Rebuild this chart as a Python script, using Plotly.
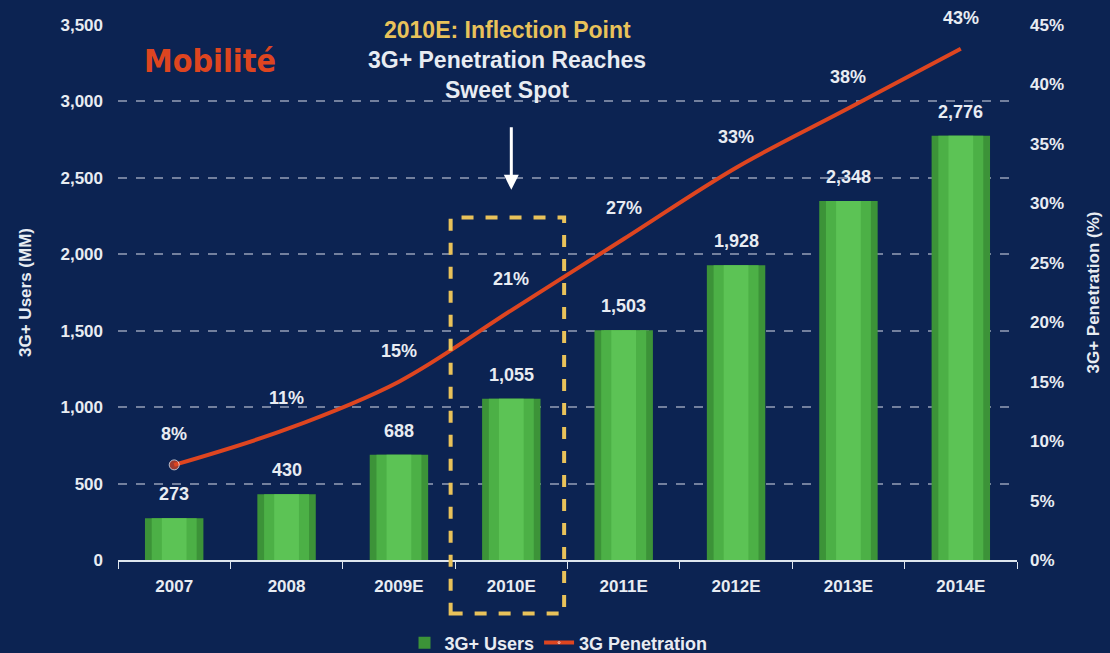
import plotly.graph_objects as go

years = ["2007", "2008", "2009E", "2010E", "2011E", "2012E", "2013E", "2014E"]
users_mm = [273, 430, 688, 1055, 1503, 1928, 2348, 2776]
penetration_pct = [8, 11, 15, 21, 27, 33, 38, 43]

user_labels = [f"{v:,}" for v in users_mm]
pen_labels = [f"{v}%" for v in penetration_pct]

BG = "#0c2352"
WHITE = "#e8ecf2"
RED = "#de4520"
GOLD = "#e9c25a"
FONT = "Liberation Sans, Arial, sans-serif"

fig = go.Figure()

# bars, layered to fake the cylinder shading
fig.add_trace(go.Bar(x=years, y=users_mm, width=0.52, name="3G+ Users",
                     marker=dict(color="#3c9338", line=dict(width=0))))
fig.add_trace(go.Bar(x=years, y=users_mm, width=0.4, showlegend=False, hoverinfo="skip",
                     marker=dict(color="#4cb046", line=dict(width=0))))
fig.add_trace(go.Bar(x=years, y=users_mm, width=0.22, showlegend=False, hoverinfo="skip",
                     marker=dict(color="#5cc355", line=dict(width=0))))

fig.add_trace(go.Scatter(x=years, y=penetration_pct, yaxis="y2", name="3G Penetration",
                         mode="lines+markers", line=dict(color=RED, width=4, shape="spline"),
                         marker=dict(size=[10, 0, 0, 0, 0, 0, 0, 0], color=RED)))

# value labels (category index positions)
for i, (v, lab) in enumerate(zip(users_mm, user_labels)):
    fig.add_annotation(x=i, y=v, text=lab, showarrow=False, yanchor="bottom", yshift=12,
                       font=dict(size=18, color=WHITE, family=FONT, weight="bold"))
for i, (v, lab) in enumerate(zip(penetration_pct, pen_labels)):
    fig.add_annotation(x=i, y=v, yref="y2", text=lab, showarrow=False, yanchor="bottom", yshift=19,
                       font=dict(size=18, color=WHITE, family=FONT, weight="bold"))

# inflection box + callout
fig.add_shape(type="rect", xref="x", yref="paper", x0=2.46, x1=3.47, y0=-0.1, y1=0.64,
              line=dict(color=GOLD, width=4, dash="dash"), layer="above")
fig.add_annotation(x=years.index("2010E"), xref="x", yref="paper", y=0.692, ax=0, ay=-64, text="",
                   showarrow=True, arrowhead=2, arrowsize=1, arrowwidth=3, arrowcolor="white")
callout = [("2010E: Inflection Point", GOLD, 0.991),
           ("3G+ Penetration Reaches", WHITE, 0.935),
           ("Sweet Spot", WHITE, 0.879)]
for txt, col, yy in callout:
    fig.add_annotation(x=0.433, xref="paper", yref="paper", y=yy, xanchor="center", yanchor="middle",
                       showarrow=False, text=txt,
                       font=dict(size=23, color=col, family=FONT, weight="bold"))
fig.add_annotation(x=0.102, xref="paper", yref="paper", y=0.933, xanchor="center", yanchor="middle",
                   showarrow=False, text="Mobilité",
                   font=dict(size=32, color=RED, family="DejaVu Sans Condensed, Liberation Sans Narrow", weight="bold"))

fig.update_layout(
    width=1110, height=653,
    paper_bgcolor=BG, plot_bgcolor=BG,
    margin=dict(l=118, r=93, t=25, b=93, autoexpand=False),
    barmode="overlay",
    font=dict(family=FONT, color=WHITE, size=16, weight="bold"),
    showlegend=True,
    legend=dict(orientation="h", x=0.49, xanchor="center", y=-0.155, yanchor="middle",
                font=dict(size=18, color=WHITE, family=FONT, weight="bold"), bgcolor="rgba(0,0,0,0)"),
    xaxis=dict(type="category", range=[-0.5, 7.5], showgrid=False, showline=True, linecolor="#dfe6ee",
               linewidth=2, ticks="outside", tickson="boundaries", ticklen=7, tickcolor="#dfe6ee",
               tickfont=dict(size=17, color=WHITE, weight="bold"), ticklabelstandoff=10, zeroline=False),
    yaxis=dict(range=[0, 3500], dtick=500, tickformat=",", showgrid=True,
               gridcolor="rgba(200,205,220,0.55)", griddash="dash", gridwidth=1.5, zeroline=False,
               tickfont=dict(size=17, color=WHITE, weight="bold"), ticklabelstandoff=14,
               title=dict(text="3G+ Users (MM)", font=dict(size=17, color=WHITE, weight="bold"), standoff=24)),
    yaxis2=dict(range=[0, 45], dtick=5, ticksuffix="%", overlaying="y", side="right", showgrid=False,
                zeroline=False, tickfont=dict(size=17, color=WHITE, weight="bold"), ticklabelstandoff=12,
                title=dict(text="3G+ Penetration (%)", font=dict(size=17, color=WHITE, weight="bold"), standoff=24)),
)

fig.write_html("out.html", config={"displayModeBar": False},
               post_script="document.body.style.margin='0';document.body.style.background='%s';" % BG)
